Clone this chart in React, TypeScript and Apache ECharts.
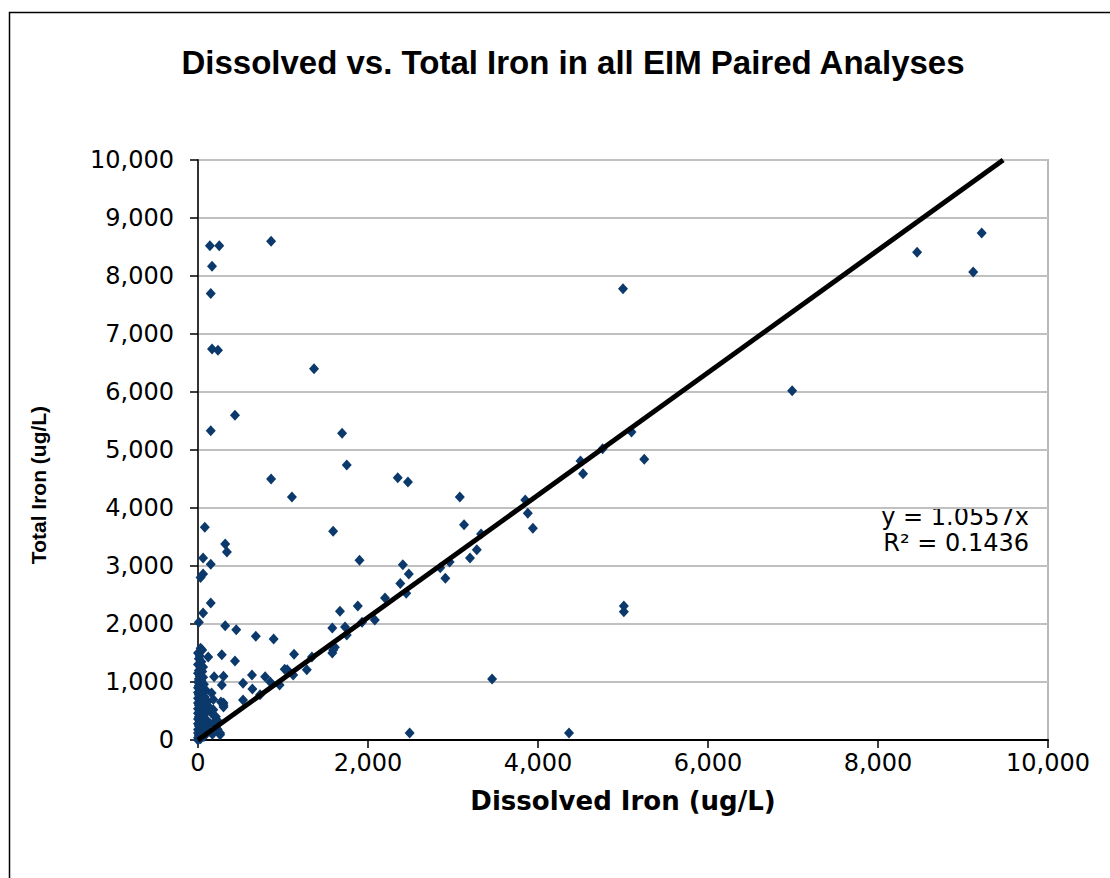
import React, { useEffect, useRef } from "react";
import * as echarts from "echarts";

// Dissolved iron (x, ug/L), total iron (y, ug/L) pairs
const scatteredHigh: number[][] = [
  [140, 8520], [250, 8520], [860, 8600], [165, 8170], [150, 7700], [165, 6740],
  [235, 6720], [1365, 6400], [435, 5600], [150, 5330], [1695, 5290], [1750, 4740],
  [860, 4500], [1105, 4190], [2350, 4520], [2470, 4450], [3080, 4190], [3130, 3710],
  [1590, 3600], [80, 3670], [320, 3380], [340, 3240], [60, 3140], [1900, 3100],
  [150, 3030], [60, 2860], [30, 2800], [2410, 3020], [2480, 2860], [2380, 2700],
  [2450, 2530], [2200, 2450], [2850, 2970], [2910, 2790], [2960, 3070], [3200, 3140],
  [3280, 3280], [3330, 3550], [3850, 4140], [3880, 3910], [3940, 3650], [3460, 1050],
  [2490, 120], [4365, 120], [4500, 4810], [4530, 4590], [4760, 5020], [5000, 7780],
  [6990, 6020], [8460, 8410], [9120, 8070], [9220, 8740], [5100, 5310], [5250, 4840],
  [5010, 2310], [5010, 2210],
];

const scatteredMid: number[][] = [
  [150, 2360], [60, 2190], [10, 2030], [320, 1970], [450, 1900], [680, 1790],
  [890, 1740], [1880, 2310], [1670, 2220], [1580, 1930], [1730, 1950], [1930, 2030],
  [2080, 2070], [1750, 1810], [1590, 1550], [1610, 1600], [1580, 1500], [1130, 1480],
  [1340, 1430], [1020, 1220], [1280, 1210], [1120, 1120], [30, 1580], [50, 1550],
  [120, 1430], [280, 1470], [435, 1360], [60, 1260], [190, 1090], [300, 1100],
  [280, 950], [530, 980], [635, 1120], [790, 1090], [640, 880], [730, 780],
  [850, 1000], [960, 950], [1050, 1210], [300, 640], [300, 570], [160, 810],
  [150, 480], [530, 690], [260, 120], [180, 290], [270, 655], [300, 600],
  [180, 520], [140, 290], [210, 400], [260, 90],
];

const nearAxis: number[][] = [
  [0, 1500], [20, 1450], [10, 1400], [40, 1350], [0, 1300], [30, 1250], [10, 1200],
  [50, 1180], [0, 1150], [20, 1100], [60, 1080], [10, 1050], [40, 1020], [0, 1000],
  [30, 980], [70, 960], [10, 940], [50, 920], [0, 900], [20, 880], [90, 860],
  [40, 840], [0, 820], [60, 800], [10, 780], [30, 760], [80, 740], [0, 720],
  [50, 700], [20, 680], [110, 660], [0, 640], [40, 620], [10, 600], [70, 580],
  [30, 560], [0, 540], [50, 520], [20, 500], [100, 480], [0, 460], [60, 440],
  [30, 420], [10, 400], [80, 380], [0, 360], [40, 340], [20, 320], [120, 300],
  [0, 280], [60, 260], [10, 240], [30, 220], [90, 200], [0, 180], [50, 160],
  [20, 140], [0, 120], [40, 100], [10, 80], [70, 60], [0, 40], [30, 20], [0, 0],
  [130, 150], [200, 250], [220, 200], [170, 100], [250, 300], [140, 550],
  [180, 700], [200, 400], [230, 180],
];

const trendSlope = 1.0557;
const trendR2 = 0.1436;
const axisMax = 10000;

const fmt = (v: number) => v.toLocaleString("en-US");

export default function App() {
  const ref = useRef<HTMLDivElement>(null);
  useEffect(() => {
    document.body.style.margin = "0";
    const chart = echarts.init(ref.current!, null, { renderer: "svg" });
    const points = [...scatteredHigh, ...scatteredMid, ...nearAxis];
    chart.setOption({
      animation: false,
      backgroundColor: "#ffffff",
      grid: {
        left: 198,
        top: 160,
        width: 850,
        height: 580,
        show: true,
        borderColor: "#b8b8b8",
        borderWidth: 2,
        backgroundColor: "transparent",
      },
      xAxis: {
        type: "value",
        min: 0,
        max: axisMax,
        interval: 2000,
        axisLine: { show: true, onZero: false, lineStyle: { color: "#000", width: 2 } },
        axisTick: { show: true, length: 8, lineStyle: { color: "#000", width: 1.5 } },
        axisLabel: {
          formatter: fmt,
          fontFamily: "DejaVu Sans",
          fontSize: 24,
          color: "#000",
          margin: 11,
        },
        splitLine: { show: false },
      },
      yAxis: {
        type: "value",
        min: 0,
        max: axisMax,
        interval: 1000,
        axisLine: { show: true, onZero: false, lineStyle: { color: "#333", width: 2 } },
        axisTick: { show: true, length: 8, lineStyle: { color: "#000", width: 1.5 } },
        axisLabel: {
          formatter: fmt,
          fontFamily: "DejaVu Sans",
          fontSize: 24,
          color: "#000",
          margin: 24,
        },
        splitLine: { show: true, lineStyle: { color: "#c0c0c0", width: 2 } },
      },
      series: [
        {
          type: "scatter",
          data: points,
          symbol: "diamond",
          symbolSize: [10, 11],
          itemStyle: { color: "#0c396b", opacity: 1 },
          z: 2,
        },
        {
          type: "line",
          data: [
            [0, 0],
            [axisMax / trendSlope, axisMax],
          ],
          showSymbol: false,
          symbol: "none",
          lineStyle: { color: "#000", width: 5 },
          z: 3,
        },
      ],
      graphic: [
        {
          type: "rect",
          shape: { x: 9.5, y: 12.5, width: 1300, height: 1000 },
          style: { fill: "none", stroke: "#000", lineWidth: 1.5 },
          silent: true,
        },
        {
          type: "text",
          x: 573,
          y: 62,
          style: {
            text: "Dissolved vs. Total Iron in all EIM Paired Analyses",
            fontFamily: "Liberation Sans",
            fontWeight: "bold",
            fontSize: 33,
            fill: "#000",
            align: "center",
            verticalAlign: "middle",
          },
        },
        {
          type: "text",
          x: 623,
          y: 801,
          style: {
            text: "Dissolved Iron (ug/L)",
            fontFamily: "DejaVu Sans",
            fontWeight: "bold",
            fontSize: 26,
            fill: "#000",
            align: "center",
            verticalAlign: "middle",
          },
        },
        {
          type: "text",
          x: 38,
          y: 485,
          rotation: Math.PI / 2,
          style: {
            text: "Total Iron (ug/L)",
            fontFamily: "Liberation Sans",
            fontWeight: "bold",
            fontSize: 21,
            fill: "#000",
            align: "center",
            verticalAlign: "middle",
          },
        },
        {
          type: "text",
          x: 1029,
          y: 517,
          style: {
            text: "y = " + trendSlope + "x",
            fontFamily: "DejaVu Sans",
            fontSize: 24,
            fill: "#000",
            align: "right",
            verticalAlign: "middle",
          },
        },
        {
          type: "text",
          x: 1029,
          y: 543,
          style: {
            text: "R² = " + trendR2,
            fontFamily: "DejaVu Sans",
            fontSize: 24,
            fill: "#000",
            align: "right",
            verticalAlign: "middle",
          },
        },
      ],
    });
    return () => chart.dispose();
  }, []);
  return <div ref={ref} style={{ width: 1110, height: 878 }} />;
}
